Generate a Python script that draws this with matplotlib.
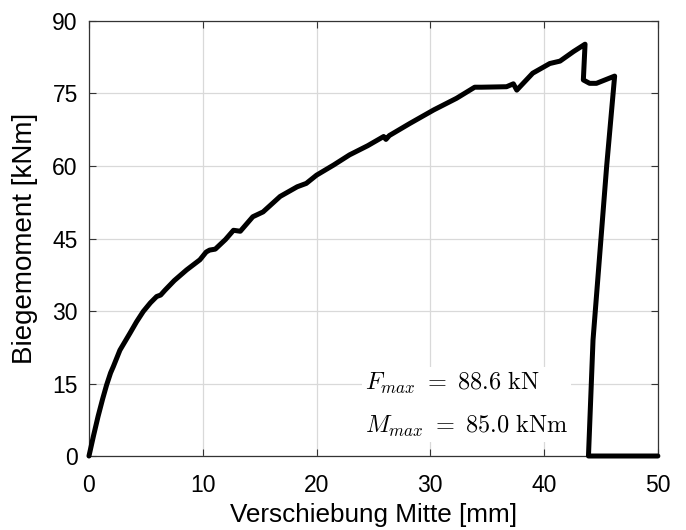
import matplotlib
matplotlib.use("Agg")
import matplotlib.pyplot as plt

plt.rcParams['font.family'] = ['Liberation Sans', 'DejaVu Sans']
plt.rcParams['mathtext.fontset'] = 'cm'

# Data
displacement_mm = [0, 0.4, 0.8, 1.2, 1.55, 1.9, 2.14, 2.72, 3.6, 4.19, 4.77, 5.4, 5.95,
                   6.3, 6.68, 7.5, 8.58, 9.75, 10.3, 10.6, 11.1, 12.0, 12.7, 13.3,
                   14.4, 15.3, 16.8, 18.3, 19.1, 20.0, 21.5, 22.9, 24.5, 25.9, 26.1,
                   26.4, 28.2, 30.3, 32.3, 33.9, 34.5, 36.7, 37.3, 37.6, 39.0,
                   40.5, 41.4, 42.6, 43.6, 43.45, 44.0, 44.6, 46.2, 45.5, 44.3,
                   43.9, 50.0]
moment_kNm = [0, 4.2, 8.2, 11.8, 14.7, 17.2, 18.5, 21.9, 25.4, 27.8, 29.9, 31.7, 33.0,
              33.3, 34.3, 36.3, 38.5, 40.6, 42.2, 42.6, 42.8, 44.8, 46.7, 46.5,
              49.5, 50.5, 53.7, 55.7, 56.4, 58.1, 60.2, 62.3, 64.2, 66.1, 65.5,
              66.3, 68.8, 71.6, 74.0, 76.3, 76.3, 76.4, 77.0, 75.7, 79.2,
              81.2, 81.7, 83.7, 85.2, 77.8, 77.1, 77.1, 78.6, 60.0, 24.0,
              0.0, 0.0]

xticks = [0, 10, 20, 30, 40, 50]
yticks = [0, 15, 30, 45, 60, 75, 90]
annotation = r"$F_{max}\ =\ 88.6\ \mathrm{kN}$" + "\n" + r"$M_{max}\ =\ 85.0\ \mathrm{kNm}$"

fig = plt.figure(figsize=(6.86, 5.30), dpi=100)
ax = fig.add_axes([0.1297, 0.1396, 0.8293, 0.8208])

ax.plot(displacement_mm, moment_kNm, color='black', lw=3.6, solid_joinstyle='round',
        solid_capstyle='round', zorder=3, clip_on=False)

ax.set_xlim(0, 50)
ax.set_ylim(0, 90)
ax.set_xticks(xticks)
ax.set_yticks(yticks)
ax.grid(True, color='#d9d9d9', lw=0.9)
ax.set_axisbelow(True)
ax.tick_params(direction='in', top=True, right=True, labelsize=16.5, length=5,
               color='#333333')
ax.tick_params(axis='x', pad=13)
ax.tick_params(axis='y', pad=8)
for s in ax.spines.values():
    s.set_color('#333333')
    s.set_linewidth(0.9)

ax.set_xlabel('Verschiebung Mitte [mm]', fontsize=18.8, labelpad=4)
ax.set_ylabel('Biegemoment [kNm]', fontsize=20, labelpad=10)

ax.text(24.25, 10.7, annotation, fontsize=17.5, va='center', ha='left',
        linespacing=1.85, zorder=4,
        bbox=dict(facecolor='white', edgecolor='none', pad=2))

fig.savefig('out.png', dpi=100)
